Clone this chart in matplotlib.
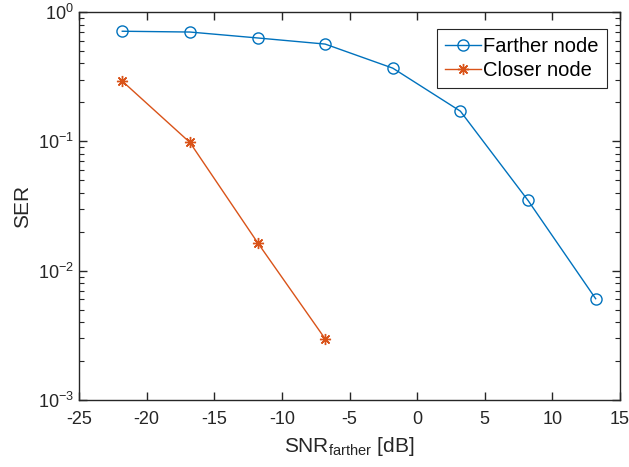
import matplotlib
matplotlib.use("Agg")
import matplotlib.pyplot as plt
from matplotlib.ticker import LogLocator, NullFormatter

plt.rcParams['font.family'] = ['Liberation Sans', 'DejaVu Sans']
plt.rcParams['mathtext.fontset'] = 'custom'
plt.rcParams['mathtext.rm'] = 'Liberation Sans'
plt.rcParams['mathtext.it'] = 'Liberation Sans'

snr_farther = [-21.8, -16.8, -11.8, -6.8, -1.8, 3.2, 8.2, 13.2]
ser_farther = [0.71, 0.70, 0.63, 0.565, 0.368, 0.171, 0.0349, 0.00607]
snr_closer = [-21.8, -16.8, -11.8, -6.8]
ser_closer = [0.292, 0.098, 0.0165, 0.00297]

xticks = [-25, -20, -15, -10, -5, 0, 5, 10, 15]

fig = plt.figure(figsize=(6.29, 4.67), dpi=100)
ax = fig.add_axes([0.1256, 0.1435, 0.8601, 0.8308])

ax.semilogy(snr_farther, ser_farther, '-o', color='#0072BD', lw=1.0,
            markersize=8, markerfacecolor='none', markeredgewidth=1.0, label='Farther node')
ax.semilogy(snr_closer, ser_closer, '-', marker=(8, 2, 0), color='#D95319', lw=1.0,
            markersize=8, markeredgewidth=1.0, label='Closer node')

ax.set_xlim(-25, 15)
ax.set_ylim(1e-3, 1)
ax.set_xticks(xticks)
ax.set_xticklabels([str(t) for t in xticks])
ax.yaxis.set_major_locator(LogLocator(base=10, numticks=10))
ax.yaxis.set_minor_locator(LogLocator(base=10, subs=range(2, 10), numticks=20))
ax.yaxis.set_minor_formatter(NullFormatter())

axcol = '#262626'
for s in ax.spines.values():
    s.set_color(axcol)
    s.set_linewidth(1.0)
ax.tick_params(which='both', direction='in', top=True, right=True, colors=axcol,
               labelcolor=axcol, labelsize=13)
ax.tick_params(which='major', length=6, width=1.0)
ax.tick_params(which='minor', length=3.5, width=0.8)
ax.tick_params(axis='x', which='minor', top=False, bottom=False)
ax.tick_params(axis='x', which='major', pad=8)

ax.set_xlabel(r'SNR$_{\mathrm{farther}}$ [dB]', fontsize=15, color=axcol, labelpad=5)
ax.set_ylabel('SER', fontsize=15, color=axcol, labelpad=4)

leg = ax.legend(loc='upper right', bbox_to_anchor=((607 - 79) / 541, (400 - 29) / 388),
                fontsize=14.5, frameon=True, fancybox=False,
                edgecolor='#262626', framealpha=1, borderpad=0.4, handlelength=1.8,
                handletextpad=0.1, labelspacing=0.25, borderaxespad=0)
leg.get_frame().set_linewidth(0.8)

fig.savefig('out.png', dpi=100)
